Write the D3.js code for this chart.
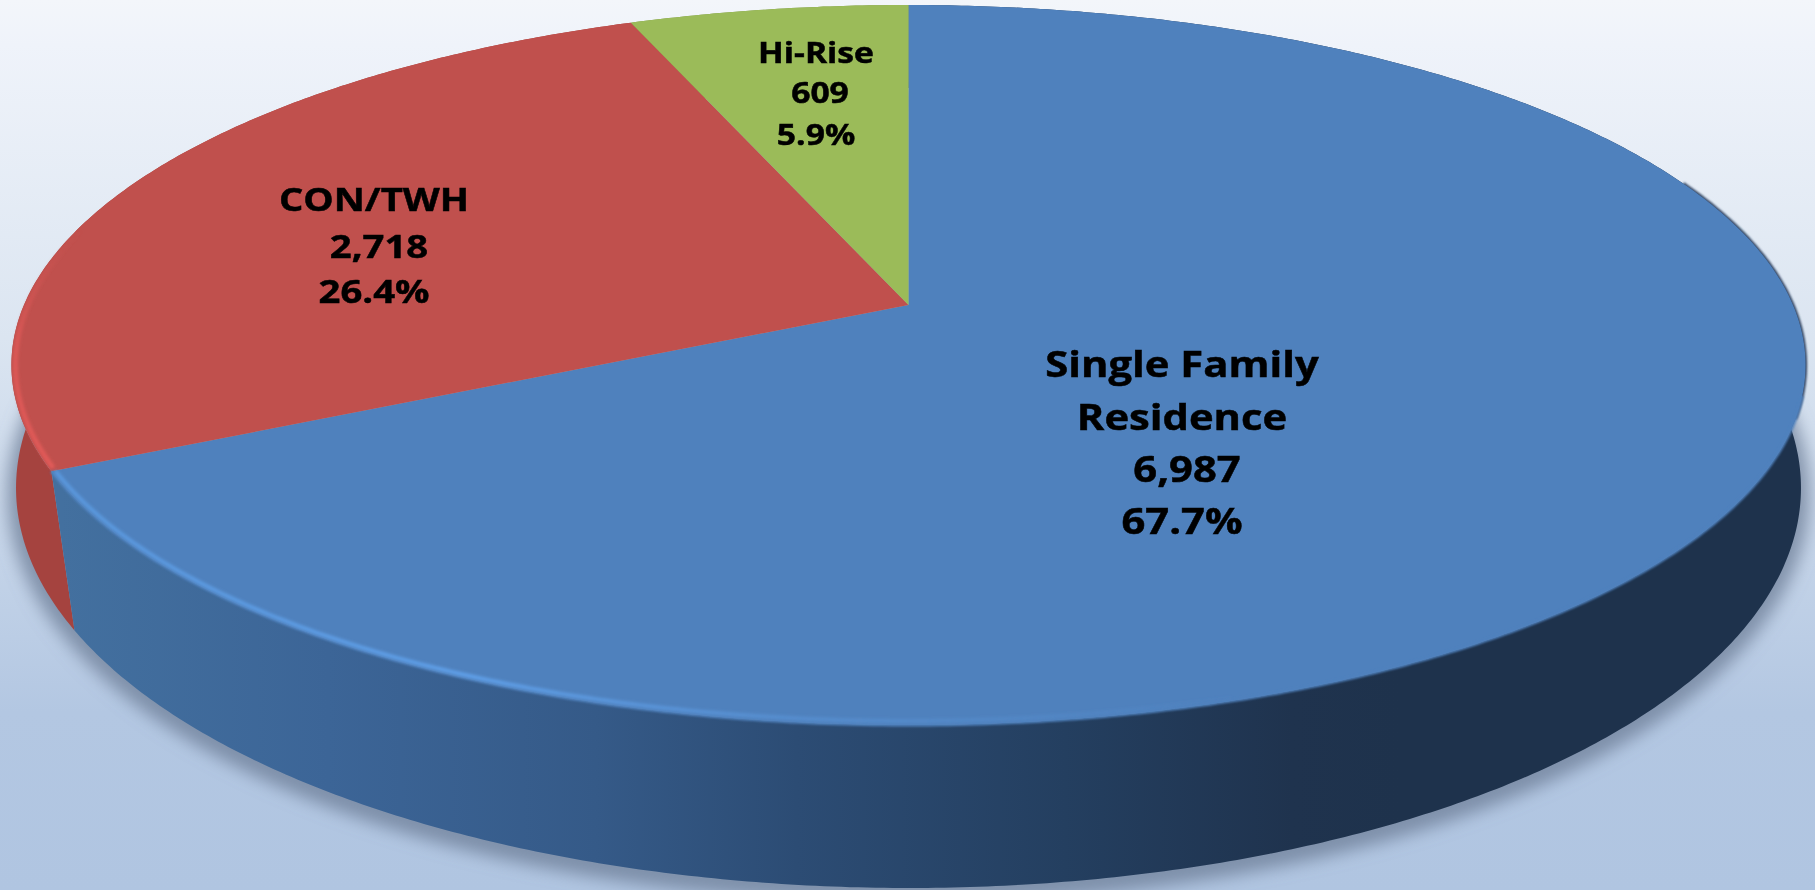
<!DOCTYPE html>
<html>
<head>
<meta charset="utf-8">
<script src="https://cdn.jsdelivr.net/npm/d3@7"></script>
<style>
  body { margin: 0; overflow: hidden; background: #b3c7e2; }
  svg { display: block; }
  text { font-family: "Open Sans", sans-serif; font-weight: 700; fill: #000; stroke: #000; stroke-width: 0.5; text-anchor: middle; }
</style>
</head>
<body>
<div id="chart"></div>
<script>
// Data
const categories = ["Single Family Residence", "CON/TWH", "Hi-Rise"];
const counts = [6987, 2718, 609];
const percents = ["67.7%", "26.4%", "5.9%"];
const topColors = ["#4f81bd", "#c0504d", "#9bbb59"];

// label lines, one list per slice
const labelLines = [
  ["Single Family", "Residence", "6,987", "67.7%"],
  ["CON/TWH", "2,718", "26.4%"],
  ["Hi-Rise", "609", "5.9%"]
];
const labelX = [[1182, 1182, 1187, 1182], [374, 379, 374], [816, 820, 816]];
const labelY = [[377, 430, 482, 534], [211, 258, 303], [63, 103, 145]];
const labelSize = [36, 33, 29];
const labelStretch = 1.16

const width = 1815
const height = 890

// perspective of the two rims: apex position, scale and tilt
const apexX = 908.5
const upperRim = { y: 305, su: 884.5, sv: 350, tilt: 1 / 6 }
const lowerRim = { y: 448, su: 888, sv: 396, tilt: 0.1 }

function project(angle, rim) {
  const u = Math.sin(angle)
  const v = -Math.cos(angle)
  const w = 1 - rim.tilt * v
  return [apexX + rim.su * u / w, rim.y + rim.sv * v / w]
}

const line = d3.line()
const step = Math.PI / 360

function samples(a0, a1) {
  const n = Math.max(2, Math.ceil((a1 - a0) / step))
  return d3.range(n + 1).map(i => a0 + (a1 - a0) * i / n)
}

const slices = d3.pie().sort(null)(counts)

const svg = d3.select("#chart")
  .append("svg")
  .attr("width", width)
  .attr("height", height)

const defs = svg.append("defs")

function gradient(id, x1, y1, x2, y2, stops) {
  const g = defs.append("linearGradient")
    .attr("id", id)
    .attr("gradientUnits", "userSpaceOnUse")
    .attr("x1", x1).attr("y1", y1).attr("x2", x2).attr("y2", y2)
  stops.forEach(s => g.append("stop")
    .attr("offset", s[0])
    .attr("stop-color", s[1])
    .attr("stop-opacity", s.length > 2 ? s[2] : 1))
}

function blur(id, dev) {
  defs.append("filter")
    .attr("id", id)
    .attr("filterUnits", "userSpaceOnUse")
    .attr("x", 0).attr("y", 0).attr("width", width).attr("height", height)
    .append("feGaussianBlur")
    .attr("stdDeviation", dev)
}

gradient("bg", 0, 0, 0, height, [[0, "#f3f6fa"], [0.05, "#eff3fa"], [0.38, "#dbe5f1"], [0.8, "#b3c7e2"], [1, "#b0c5e1"]])
gradient("sideBlue", 60, 0, 1400, 0, [[0, "#43709f"], [0.2, "#3c6597"], [0.4, "#355a88"], [0.55, "#2c4c74"], [0.75, "#243f60"], [0.92, "#1f334e"], [1, "#1e324c"]])
gradient("rimBlue", 50, 0, 1250, 0, [[0, "#5b9ae0", 0.9], [0.35, "#5f9fe8", 1], [0.62, "#5b97dc", 0.55], [1, "#5b97dc", 0]])
gradient("rimRed", 0, 480, 0, 230, [[0, "#e15a58", 1], [0.55, "#dc5856", 0.9], [1, "#d05452", 0]])
blur("soft", 8)
blur("rimBlur", 1.6)
blur("edgeBlur", 1.2)
blur("textBlur", 0.35)

svg.append("rect")
  .attr("width", width)
  .attr("height", height)
  .attr("fill", "url(#bg)")

// soft shadow under the disc
const fullAngles = samples(0, 2 * Math.PI)
svg.append("path")
  .attr("d", line(fullAngles.map(a => {
    const p = project(a, lowerRim)
    return [p[0], p[1] + 6]
  })) + "Z")
  .attr("fill", "#6d7d96")
  .attr("fill-opacity", 0.6)
  .attr("stroke", "#6d7d96")
  .attr("stroke-opacity", 0.6)
  .attr("stroke-width", 20)
  .attr("filter", "url(#soft)")

// side walls, back to front
const sideFills = ["url(#sideBlue)", "#a5433f", "#7c9647"]
d3.range(slices.length).reverse().forEach(i => {
  const s = slices[i]
  const angles = samples(s.startAngle, s.endAngle)
  const pts = angles.map(a => project(a, upperRim)).concat(angles.slice().reverse().map(a => project(a, lowerRim)))
  svg.append("path")
    .attr("class", "side")
    .attr("d", line(pts) + "Z")
    .attr("fill", sideFills[i])
})

// thin dark line round the right shoulder of the disc
svg.append("path")
  .attr("d", line(samples(Math.PI * 0.38, Math.PI * 0.6).map(a => project(a, upperRim))))
  .attr("fill", "none")
  .attr("stroke", "#2a3d5c")
  .attr("stroke-width", 3)
  .attr("filter", "url(#edgeBlur)")

// top faces
svg.selectAll("path.top")
  .data(slices)
  .enter()
  .append("path")
  .attr("class", "top")
  .attr("fill", (d, i) => topColors[i])
  .attr("d", d => {
    const pts = samples(d.startAngle, d.endAngle).map(a => project(a, upperRim))
    pts.unshift([apexX, upperRim.y])
    return line(pts) + "Z"
  })
  .append("title")
  .text((d, i) => `${categories[i]}: ${d3.format(",")(d.value)} (${percents[i]})`)

// soft edge between the blue top and the dark wall
svg.append("path")
  .attr("d", line(samples(Math.PI * 0.58, slices[0].endAngle).map(a => project(a, upperRim))))
  .attr("fill", "none")
  .attr("stroke", topColors[0])
  .attr("stroke-width", 3)
  .attr("filter", "url(#edgeBlur)")

// bevel highlights along the front rim
const rimGroup = svg.append("g")
const rimInset = 4
function rimPath(a0, a1) {
  return line(samples(a0, a1).map(a => {
    const p = project(a, upperRim)
    const dx = apexX - p[0]
    const dy = upperRim.y + 60 - p[1]
    const d = Math.hypot(dx, dy)
    return [p[0] + dx / d * rimInset, p[1] + dy / d * rimInset]
  }))
}
rimGroup.append("path")
  .attr("d", rimPath(Math.PI * 0.9, slices[0].endAngle - 0.004))
  .attr("fill", "none")
  .attr("stroke", "url(#rimBlue)")
  .attr("stroke-width", 4)
  .attr("stroke-linecap", "round")
  .attr("filter", "url(#rimBlur)")
rimGroup.append("path")
  .attr("d", rimPath(slices[1].startAngle + 0.008, slices[1].startAngle + 0.75))
  .attr("fill", "none")
  .attr("stroke", "url(#rimRed)")
  .attr("stroke-width", 5)
  .attr("filter", "url(#rimBlur)")

// labels, stretched sideways like the reference
labelLines.forEach((lines, i) => {
  svg.append("g")
    .attr("class", "label")
    .attr("filter", "url(#textBlur)")
    .selectAll("text")
    .data(lines)
    .enter()
    .append("text")
    .attr("transform", (d, j) => `translate(${labelX[i][j]},${labelY[i][j]}) scale(${labelStretch},1)`)
    .attr("font-size", labelSize[i])
    .text(d => d)
})
</script>
</body>
</html>
